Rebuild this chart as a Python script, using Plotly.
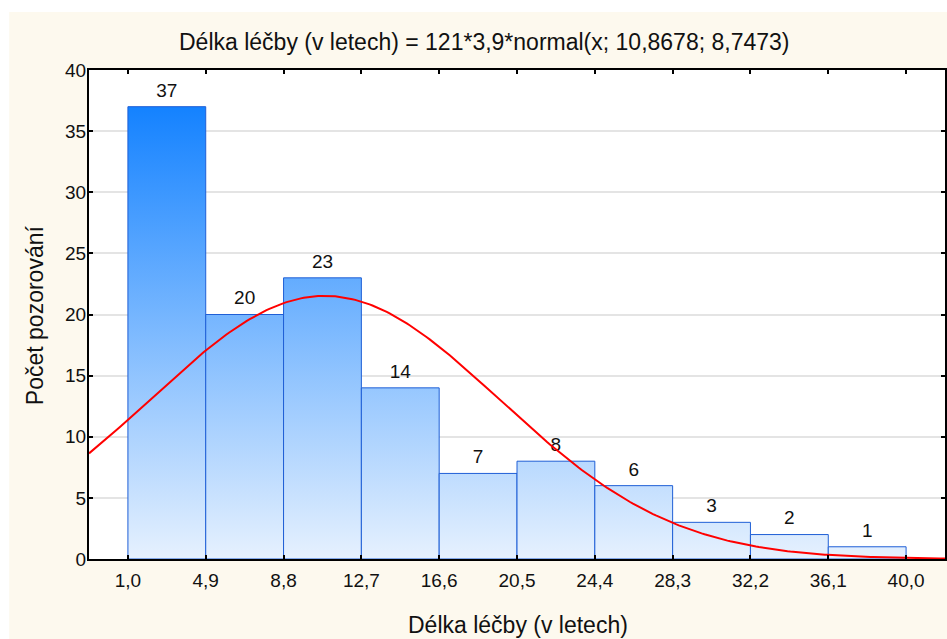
import numpy as np
import plotly.graph_objects as go

# ---- data ----
bin_edges = [1.0, 4.9, 8.8, 12.7, 16.6, 20.5, 24.4, 28.3, 32.2, 36.1, 40.0]
edge_labels = ["1,0", "4,9", "8,8", "12,7", "16,6", "20,5", "24,4", "28,3", "32,2", "36,1", "40,0"]
counts = [37, 20, 23, 14, 7, 8, 6, 3, 2, 1]
n_total = 121
bin_width = 3.9
fit_mean = 10.8678
fit_sd = 8.7473
y_ticks = [0, 5, 10, 15, 20, 25, 30, 35, 40]

title_text = "Délka léčby (v letech) = 121*3,9*normal(x; 10,8678; 8,7473)"
x_title = "Délka léčby (v letech)"
y_title = "Počet pozorování"

FONT = "Liberation Sans, Arial, sans-serif"
X_RANGE = [-0.95, 41.95]

fig = go.Figure()

# bars as filled polygons with vertical gradient
for i, c in enumerate(counts):
    l, r = bin_edges[i], bin_edges[i + 1]
    fig.add_trace(go.Scatter(
        x=[l, l, r, r, l], y=[0, c, c, 0, 0],
        mode="lines", fill="toself",
        line=dict(color="#1F5FD6", width=1),
        fillgradient=dict(type="vertical", start=0, stop=37,
                          colorscale=[[0, "#E6F1FE"], [1, "#1482FF"]]),
        hoverinfo="skip", showlegend=False,
    ))

# count labels
centers = [(bin_edges[i] + bin_edges[i + 1]) / 2 for i in range(len(counts))]
fig.add_trace(go.Scatter(
    x=centers, y=counts, mode="markers+text", text=[str(c) for c in counts],
    marker=dict(size=7, opacity=0),
    textposition="top center",
    textfont=dict(family=FONT, size=19, color="#111111"),
    showlegend=False, hoverinfo="skip", cliponaxis=False,
))

# fitted normal curve (as defined in the title)
xs = np.linspace(X_RANGE[0], X_RANGE[1], 300)
ys = n_total * bin_width * np.exp(-0.5 * ((xs - fit_mean) / fit_sd) ** 2) / (fit_sd * np.sqrt(2 * np.pi))
fig.add_trace(go.Scatter(x=xs, y=ys, mode="lines",
                         line=dict(color="#FF0000", width=2),
                         showlegend=False, hoverinfo="skip"))

W, H = 947, 639
L, T, R, B = 89, 70, 0, 80
pw, ph = W - L - R, H - T - B

def px_x(p):
    return (p - L) / pw

def px_y(p):
    return (H - B - p) / ph

fig.update_layout(
    width=W, height=H,
    margin=dict(l=L, r=R, t=T, b=B),
    paper_bgcolor="white", plot_bgcolor="white",
    font=dict(family=FONT, size=19, color="#111111"),
    shapes=[
        dict(type="rect", xref="paper", yref="paper", layer="below",
             x0=px_x(9), x1=px_x(960), y0=px_y(660), y1=px_y(12),
             fillcolor="#FDF9EE", line=dict(width=0)),
        dict(type="rect", xref="paper", yref="paper", layer="below",
             x0=0, x1=1, y0=0, y1=1, fillcolor="white", line=dict(width=0)),
    ],
    annotations=[
        dict(text=title_text, xref="paper", yref="paper", x=px_x(485), y=px_y(42),
             showarrow=False, xanchor="center", yanchor="middle",
             font=dict(family=FONT, size=23, color="#111111")),
        dict(text=x_title, xref="paper", yref="paper", x=px_x(519), y=px_y(625),
             showarrow=False, xanchor="center", yanchor="middle",
             font=dict(family=FONT, size=23, color="#111111")),
        dict(text=y_title, xref="paper", yref="paper", x=px_x(35), y=px_y(315),
             showarrow=False, xanchor="center", yanchor="middle", textangle=-90,
             font=dict(family=FONT, size=23, color="#111111")),
    ],
)

fig.update_xaxes(
    range=X_RANGE, tickmode="array", tickvals=bin_edges, ticktext=edge_labels,
    showgrid=False, zeroline=False,
    showline=True, linecolor="black", linewidth=2, mirror="ticks",
    ticks="inside", ticklen=4, tickwidth=2, tickcolor="black",
    ticklabelstandoff=3,
    tickfont=dict(family=FONT, size=19, color="#111111"),
)
fig.update_yaxes(
    range=[0, 40], tickmode="array", tickvals=y_ticks,
    ticktext=[str(v) for v in y_ticks],
    showgrid=True, gridcolor="#E4E4E4", gridwidth=2, zeroline=False,
    showline=True, linecolor="black", linewidth=2, mirror="ticks",
    ticks="inside", ticklen=4, tickwidth=2, tickcolor="black",
    ticklabelstandoff=-3,
    tickfont=dict(family=FONT, size=19, color="#111111"),
)

fig.write_html("out.html")
